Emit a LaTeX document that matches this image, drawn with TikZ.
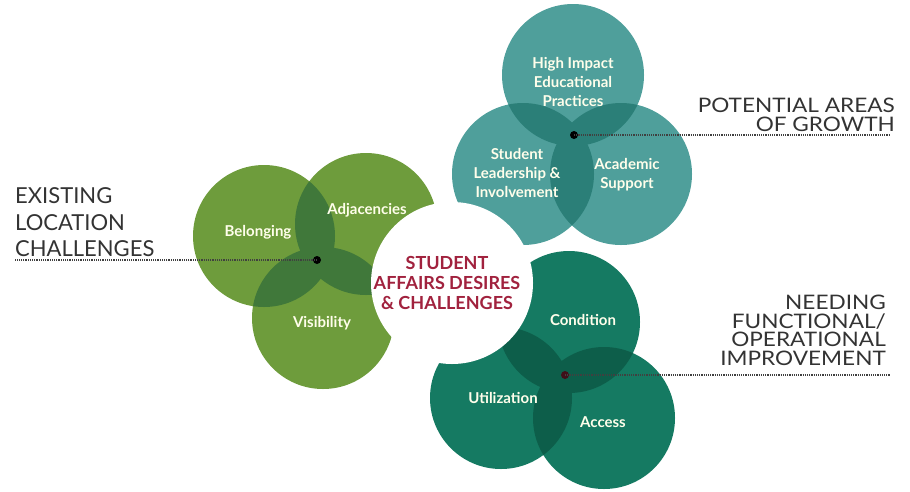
\documentclass[tikz,border=0pt]{standalone}
\usepackage{fontspec}
\setmainfont{Lato}
\newfontfamily\widefont[FakeStretch=1.13]{Lato}
\usetikzlibrary{positioning}

\definecolor{leaf}{HTML}{6E9C3C}
\definecolor{leafdk}{HTML}{40783A}
\definecolor{sea}{HTML}{4F9F9B}
\definecolor{seadk}{HTML}{2B7F78}
\definecolor{pine}{HTML}{157A62}
\definecolor{pinedk}{HTML}{0D5E4A}
\definecolor{wine}{HTML}{A1223E}

\begin{document}
\begin{tikzpicture}[x=1pt,y=-1pt,
  lbl/.style={text=white!92!yellow, font=\bfseries\fontsize{15}{19}\selectfont, align=center},
  head/.style={text=black!80, inner sep=0},
  dotline/.style={draw=black!75, line width=1.6pt, dash pattern=on 1.2pt off 1pt},
  pin/.style={circle, fill=black, inner sep=0, minimum size=8pt}]
\useasboundingbox (0,0) rectangle (910,491);

% circle centres
\coordinate (bel) at (264,236);
\coordinate (adj) at (366,224);
\coordinate (vis) at (323,318);
\coordinate (hip) at (573,75);
\coordinate (sli) at (523,174);
\coordinate (aca) at (621,174);
\coordinate (con) at (569,322);
\coordinate (uti) at (501,398);
\coordinate (acc) at (604,418);
\coordinate (hub) at (452,283);

% three clusters, darker where two circles meet
\foreach \p/\q/\r/\c/\d in {bel/adj/vis/leaf/leafdk, hip/sli/aca/sea/seadk, con/uti/acc/pine/pinedk}{
  \fill[\c] (\p) circle[radius=71] (\q) circle[radius=71] (\r) circle[radius=71];
  \begin{scope}
    \clip (\p) circle[radius=71];
    \fill[\d] (\q) circle[radius=71] (\r) circle[radius=71];
  \end{scope}
  \begin{scope}
    \clip (\q) circle[radius=71];
    \fill[\d] (\r) circle[radius=71];
  \end{scope}
}
\fill[white] (hub) circle[radius=81];

\node[font=\bfseries\fontsize{18}{20}\selectfont, text=wine, align=center] (hubT) at (447,283)
  {STUDENT\\AFFAIRS DESIRES\\\& CHALLENGES};

\node[lbl] (belT) at (258,232) {Belonging};
\node[lbl] (adjT) at (367,210) {Adjacencies};
\node[lbl] (visT) at (322,323) {Visibility};
\node[lbl] (hipT) at (573,82) {High Impact\\Educational\\Practices};
\node[lbl] (sliT) at (517,173) {Student\\Leadership \&\\Involvement};
\node[lbl] (acaT) at (627,175) {Academic\\Support};
\node[lbl] (conT) at (583,320) {Condition};
\node[lbl] (utiT) at (503,398) {Utilization};
\node[lbl] (accT) at (603,422) {Access};

% pins and leader lines
\node[pin] (gp) at (317,260) {};
\node[pin] (tp) at (574,135) {};
\node[pin, fill=black!60!wine] (pp) at (565,375) {};
\coordinate (gEnd) at (15,260);
\coordinate (tEnd) at (890,135);
\coordinate (pEnd) at (890,375);
\draw[dotline] (gp.center) -- (gEnd);
\draw[dotline] (tp.center) -- (tEnd);
\draw[dotline] (pp.center) -- (pEnd);

\node[head, anchor=south west, align=left, font=\fontsize{22}{26.5}\selectfont] (exist) at (15,257)
  {EXISTING\\LOCATION\\CHALLENGES};
\node[head, anchor=south east, align=right, font=\widefont\fontsize{20}{19.5}\selectfont] (grow) at (895,132)
  {POTENTIAL AREAS\\OF GROWTH};
\node[head, anchor=south east, align=right, font=\widefont\fontsize{20}{18.7}\selectfont] (need) at (886,366)
  {NEEDING\\FUNCTIONAL/\\OPERATIONAL\\IMPROVEMENT};
\end{tikzpicture}
\end{document}
